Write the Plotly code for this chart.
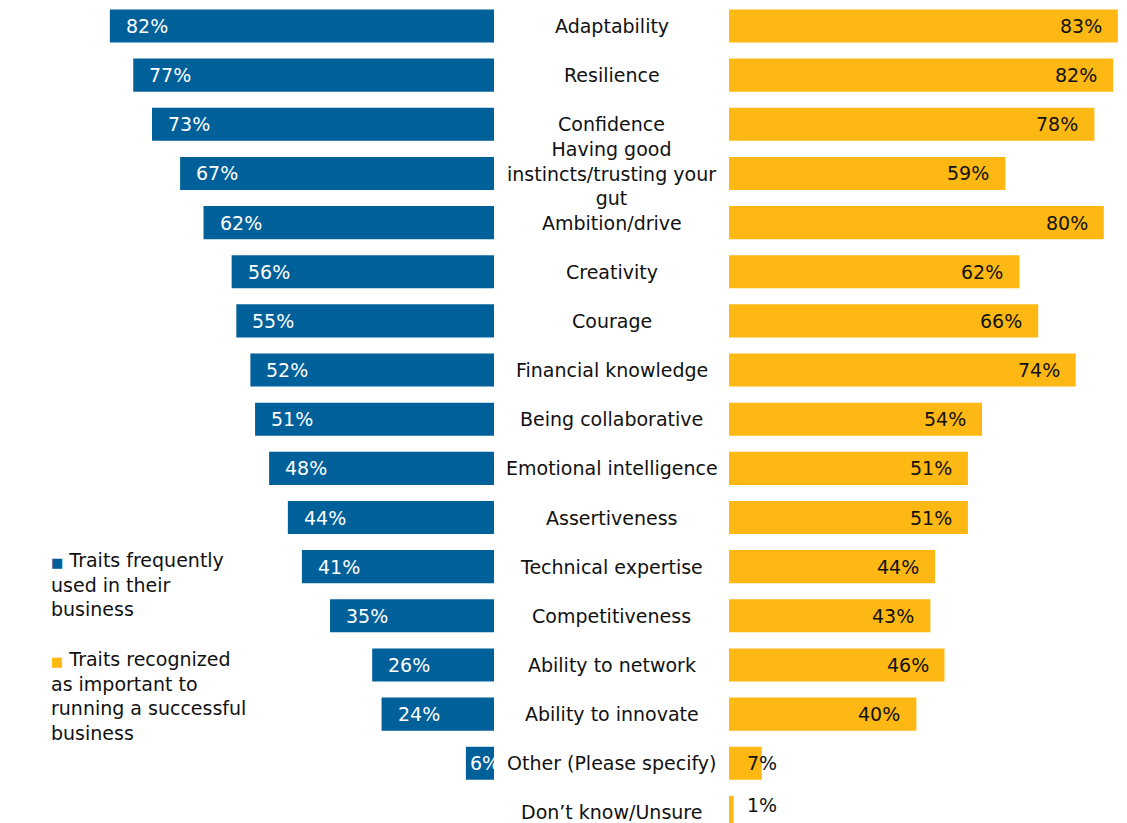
import plotly.graph_objects as go

categories = ["Adaptability", "Resilience", "Confidence",
              "Having good<br>instincts/trusting your<br>gut",
              "Ambition/drive", "Creativity", "Courage", "Financial knowledge",
              "Being collaborative", "Emotional intelligence", "Assertiveness",
              "Technical expertise", "Competitiveness", "Ability to network",
              "Ability to innovate", "Other (Please specify)", "Don’t know/Unsure"]
used_in_business = [82, 77, 73, 67, 62, 56, 55, 52, 51, 48, 44, 41, 35, 26, 24, 6, None]
recognized_important = [83, 82, 78, 59, 80, 62, 66, 74, 54, 51, 51, 44, 43, 46, 40, 7, 1]

BLUE = "#00609A"
YELLOW = "#FDB813"
FONT = "DejaVu Sans"
W, H = 1127, 823
PX_PER_PCT = 4.685
LEFT_END, RIGHT_START = 494, 729

ids = list(range(len(categories)))

fig = go.Figure()
fig.add_trace(go.Bar(y=ids, x=[v if v is not None else 0 for v in used_in_business],
                     orientation="h", marker=dict(color=BLUE, line=dict(width=0)),
                     xaxis="x", yaxis="y", hoverinfo="skip", showlegend=False))
fig.add_trace(go.Bar(y=ids, x=recognized_important,
                     orientation="h", marker=dict(color=YELLOW, line=dict(width=0)),
                     xaxis="x2", yaxis="y", hoverinfo="skip", showlegend=False))

annotations = []
cx = (LEFT_END + RIGHT_START) / 2 / W
for i, c in enumerate(categories):
    annotations.append(dict(x=cx, xref="paper", y=i, yref="y", text=c, showarrow=False,
                            xanchor="center", yanchor="middle", align="center",
                            font=dict(family=FONT, size=19, color="#111111")))
for i, v in enumerate(used_in_business):
    if v is None:
        continue
    annotations.append(dict(x=v, xref="x", y=i, yref="y", text=f"{v}%", showarrow=False,
                            xanchor="left", yanchor="middle", xshift=2 if v < 10 else 14,
                            font=dict(family=FONT, size=19, color="white")))
for i, v in enumerate(recognized_important):
    if v < 10:
        annotations.append(dict(x=0, xref="x2", y=i, yref="y", text=f"{v}%", showarrow=False,
                                xanchor="left", yanchor="middle", xshift=16,
                                yshift=7 if v < 5 else 0,
                                font=dict(family=FONT, size=19, color="#111111")))
    else:
        annotations.append(dict(x=v, xref="x2", y=i, yref="y", text=f"{v}%", showarrow=False,
                                xanchor="right", yanchor="middle", xshift=-14,
                                font=dict(family=FONT, size=19, color="#111111")))

legend_text = (f"<span style='color:{BLUE};font-size:13px'>■</span> Traits frequently<br>"
               "used in their<br>business<br> <br>"
               f"<span style='color:{YELLOW};font-size:13px'>■</span> Traits recognized<br>"
               "as important to<br>running a successful<br>business")
annotations.append(dict(x=49 / W, xref="paper", y=1 - 547 / H, yref="paper", text=legend_text,
                        showarrow=False, xanchor="left", yanchor="top", align="left",
                        font=dict(family=FONT, size=19, color="#111111")))

pitch = 49.15
top_center = 26.0
r0 = -top_center / pitch
r1 = r0 + H / pitch

fig.update_layout(
    width=W, height=H, margin=dict(l=0, r=0, t=0, b=0),
    paper_bgcolor="white", plot_bgcolor="white",
    bargap=1 - 33 / 49,
    xaxis=dict(domain=[0, LEFT_END / W], range=[LEFT_END / PX_PER_PCT, 0],
               visible=False, fixedrange=True),
    xaxis2=dict(domain=[RIGHT_START / W, 1], range=[0, (W - RIGHT_START) / PX_PER_PCT],
                visible=False, fixedrange=True, anchor="y"),
    yaxis=dict(range=[r1, r0], visible=False, fixedrange=True, anchor="x"),
    annotations=annotations,
    font=dict(family=FONT),
)

fig.write_html("out.html")
